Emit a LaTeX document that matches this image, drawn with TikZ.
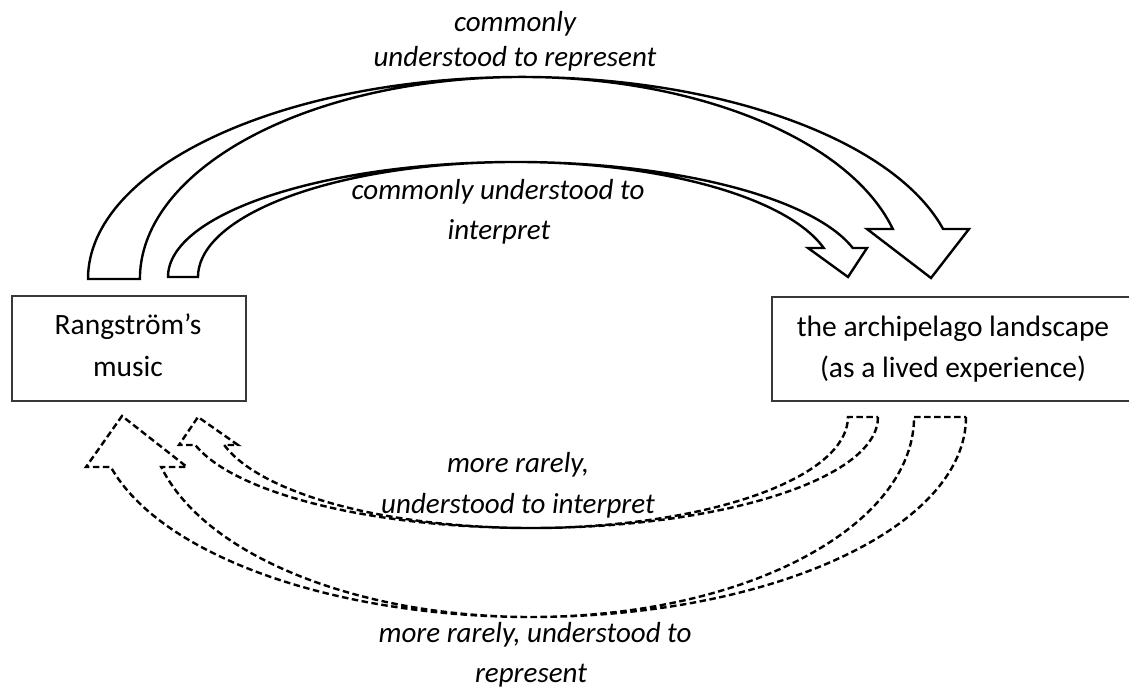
\documentclass[tikz,border=0pt]{standalone}
\usepackage{fontspec}
\setmainfont{Carlito}
\begin{document}
\begin{tikzpicture}[x=1pt,y=1pt,
  boxtxt/.style={anchor=base, inner sep=0pt, font=\fontsize{29.5}{35}\selectfont},
  lbl/.style={anchor=base, inner sep=0pt, font=\fontsize{29}{35}\selectfont\itshape},
  framebox/.style={draw=black!78, line width=1.5pt, inner sep=0pt, anchor=south west},
  solidarrow/.style={draw=black, line width=2.4pt, fill=white, line join=miter},
  dasharrow/.style={draw=black, line width=2.4pt, dash pattern=on 6.5pt off 3.5pt, fill=white}
]
\clip (0,0) rectangle (1129,695);
\fill[white] (0,0) rectangle (1129,695);

% the two boxes
\node[framebox, minimum width=234pt, minimum height=105pt] (music) at (11,293) {};
\node[framebox, minimum width=364pt, minimum height=104pt] (land) at (771,293) {};
\node[boxtxt] (music1) at (128,360) {Rangström’s};
\node[boxtxt] (music2) at (128,318) {music};
\node[boxtxt] (land1) at (953,358) {the archipelago landscape};
\node[boxtxt] (land2) at (953,317) {(as a lived experience)};

% curved block arrows, music -> landscape (solid)
\draw[solidarrow] (88,416)
  arc[start angle=180, end angle=14.33, x radius=434.3pt, y radius=202pt]
  -- (969,466) -- (931,417) -- (867,466) -- (892.8,466)
  arc[start angle=14.33, end angle=180, x radius=382.4pt, y radius=202pt] -- cycle;
\draw[solidarrow] (168,418)
  arc[start angle=180, end angle=14.61, x radius=348pt, y radius=115pt]
  -- (867,447) -- (848,418) -- (808,447) -- (823.7,447)
  arc[start angle=14.61, end angle=180, x radius=318pt, y radius=115pt] -- cycle;

% curved block arrows, landscape -> music (dashed)
\draw[dasharrow] (966,278)
  arc[start angle=0, end angle=-165.52, x radius=434.5pt, y radius=200pt]
  -- (86,228) -- (122,279) -- (187,228) -- (161.2,228)
  arc[start angle=-165.52, end angle=0, x radius=382.5pt, y radius=200pt] -- cycle;
\draw[dasharrow] (878,278)
  arc[start angle=0, end angle=-165.39, x radius=347pt, y radius=111pt]
  -- (179,250) -- (198,278) -- (238,250) -- (224.2,250)
  arc[start angle=-165.39, end angle=0, x radius=317pt, y radius=111pt] -- cycle;

% arrow labels
\node[lbl] (repA) at (515,663) {commonly};
\node[lbl] (repB) at (515,628) {understood to represent};
\node[lbl] (intA) at (498,495) {commonly understood to};
\node[lbl] (intB) at (499,455) {interpret};
\node[lbl] (rintA) at (518,222) {more rarely,};
\node[lbl] (rintB) at (518,181) {understood to interpret};
\node[lbl] (rrepA) at (535,52) {more rarely, understood to};
\node[lbl] (rrepB) at (531,12) {represent};
\end{tikzpicture}
\end{document}
